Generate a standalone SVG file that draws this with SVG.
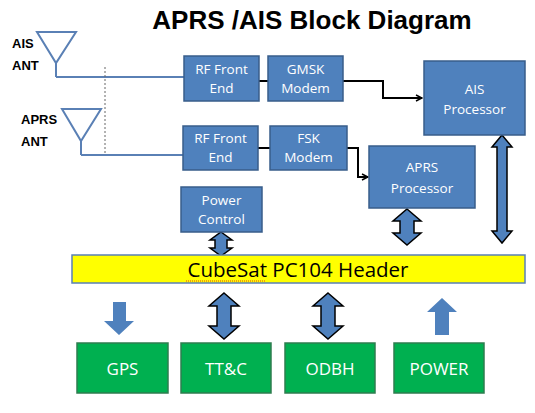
<svg xmlns="http://www.w3.org/2000/svg" width="535" height="413" viewBox="0 0 535 413">
<defs>
<style>
.bx{fill:#4F81BD;stroke:#385D8A;stroke-width:1.5}
.gb{fill:#00B050;stroke:#2E7D4F;stroke-width:1.5}
.bt{font-family:"Open Sans","Liberation Sans",sans-serif;font-size:13.5px;fill:#fff;text-anchor:middle}
.gt{font-family:"Open Sans","Liberation Sans",sans-serif;font-size:17px;fill:#fff;text-anchor:middle}
.lb{font-family:"Liberation Sans",Arial,sans-serif;font-size:13px;font-weight:bold;fill:#000}
.ant{fill:none;stroke:#5A80B5;stroke-width:2}
.wire{fill:none;stroke:#000;stroke-width:2}
.ba{fill:#4F81BD;stroke:#000;stroke-width:1.5;stroke-linejoin:miter}
.pa{fill:#4F81BD;stroke:none}
</style>
<marker id="ah" markerWidth="8" markerHeight="8" refX="7" refY="4" orient="auto" markerUnits="userSpaceOnUse">
<path d="M1,1 L7,4 L1,7" fill="none" stroke="#000" stroke-width="1.5"/>
</marker>
</defs>
<rect width="535" height="413" fill="#fff"/>
<text x="312" y="29" font-family="Liberation Sans,Arial,sans-serif" font-size="26" font-weight="bold" text-anchor="middle">APRS /AIS Block Diagram</text>

<g id="ais-ant">
<text class="lb" x="12" y="48">AIS</text>
<text class="lb" x="12" y="70">ANT</text>
<path class="ant" d="M37,32 L76,32 L56,63 Z M56,63 L56,77"/>
</g>
<g id="aprs-ant">
<text class="lb" x="21" y="124">APRS</text>
<text class="lb" x="21" y="146">ANT</text>
<path class="ant" d="M62,109 L101,109 L81,141 Z M81,141 L81,155"/>
</g>

<g id="connectors">
<path class="ant" d="M56,77 L184,77"/>
<path class="ant" d="M81,155 L183,155"/>
<line x1="105" y1="67" x2="105" y2="155" stroke="#666" stroke-width="1" stroke-dasharray="2,2"/>
<path class="wire" d="M259,81 L268,81"/>
<path class="wire" d="M258,148 L270,148"/>
<path class="wire" d="M343,81 L383,81 L383,98 L422,98" marker-end="url(#ah)"/>
<path class="wire" d="M347,148 L358,148 L358,177 L368,177" marker-end="url(#ah)"/>
<path class="ba" d="M502,135 L512,147 L507,147 L507,231 L512,231 L502,243 L492,231 L497,231 L497,147 L492,147 Z"/>
<path class="ba" d="M407,209 L421,221 L414,221 L414,233 L421,233 L407,245 L393,233 L400,233 L400,221 L393,221 Z"/>
<path class="ba" d="M221,232 L232,240 L227,240 L227,248 L232,248 L221,256 L210,248 L215,248 L215,240 L210,240 Z"/>
<path class="pa" d="M113,302 L126,302 L126,321 L134,321 L119,335 L104,321 L113,321 Z"/>
<path class="ba" d="M224,293 L239,306 L231,306 L231,326 L239,326 L224,339 L209,326 L217,326 L217,306 L209,306 Z"/>
<path class="ba" d="M328,293 L343,306 L335,306 L335,326 L343,326 L328,339 L313,326 L321,326 L321,306 L313,306 Z"/>
<path class="pa" d="M442,298 L457,312 L449,312 L449,335 L435,335 L435,312 L427,312 Z"/>
</g>

<g id="rf1"><rect class="bx" x="184" y="56" width="75" height="45"/><text class="bt" x="221.5" y="74">RF Front</text><text class="bt" x="221.5" y="93">End</text></g>
<g id="gmsk"><rect class="bx" x="268" y="56" width="75" height="45"/><text class="bt" x="305.5" y="74">GMSK</text><text class="bt" x="305.5" y="93">Modem</text></g>
<g id="rf2"><rect class="bx" x="183" y="126" width="75" height="44"/><text class="bt" x="220.5" y="143">RF Front</text><text class="bt" x="220.5" y="162">End</text></g>
<g id="fsk"><rect class="bx" x="270" y="126" width="77" height="44"/><text class="bt" x="308.5" y="143">FSK</text><text class="bt" x="308.5" y="162">Modem</text></g>
<g id="ais-proc"><rect class="bx" x="424" y="61" width="101" height="74"/><text class="bt" x="474.5" y="94">AIS</text><text class="bt" x="474.5" y="114">Processor</text></g>
<g id="aprs-proc"><rect class="bx" x="369" y="146" width="106" height="62"/><text class="bt" x="422" y="172">APRS</text><text class="bt" x="422" y="193">Processor</text></g>
<g id="power-ctrl"><rect class="bx" x="181" y="187" width="81" height="45"/><text class="bt" x="221.5" y="205" font-size="12.5">Power</text><text class="bt" x="221.5" y="224" font-size="12.5">Control</text></g>

<g id="header">
<rect x="72" y="255" width="453" height="28" fill="#FFFF00" stroke="#5A80B5" stroke-width="1.5"/>
<text x="298" y="277" font-family="Open Sans,Liberation Sans,sans-serif" font-size="20.5" text-anchor="middle" fill="#000">CubeSat PC104 Header</text>
<line x1="186" y1="281" x2="266" y2="281" stroke="#E04020" stroke-width="1" stroke-dasharray="1,1"/>
</g>

<g id="gps"><rect class="gb" x="77" y="343" width="91" height="50"/><text class="gt" x="122.5" y="375">GPS</text></g>
<g id="ttc"><rect class="gb" x="181" y="343" width="90" height="50"/><text class="gt" x="226" y="375">TT&amp;C</text></g>
<g id="odbh"><rect class="gb" x="285" y="343" width="90" height="50"/><text class="gt" x="330" y="375">ODBH</text></g>
<g id="power"><rect class="gb" x="394" y="343" width="90" height="50"/><text class="gt" x="439" y="375">POWER</text></g>
</svg>
